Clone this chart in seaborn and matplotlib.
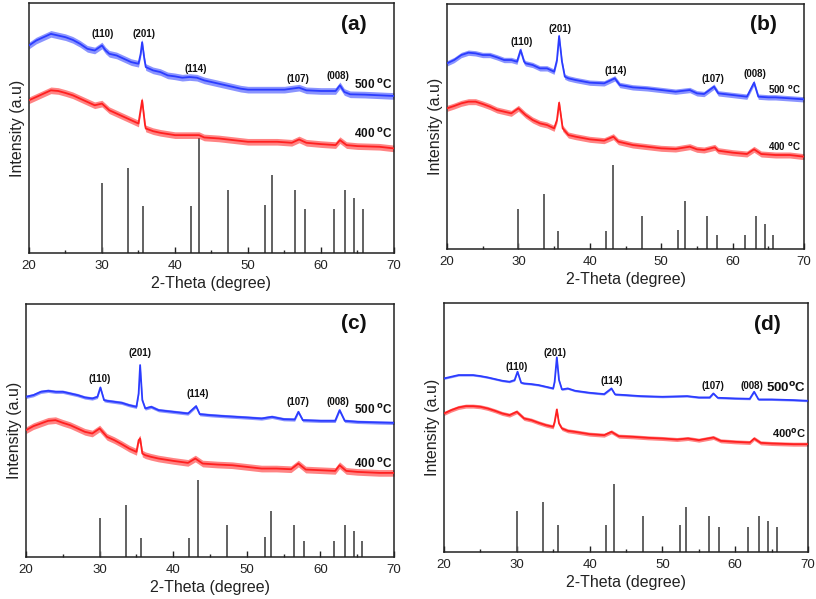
import matplotlib
matplotlib.use("Agg")
import matplotlib.pyplot as plt
from matplotlib.ticker import MultipleLocator
import seaborn as sns
import pandas as pd

sns.set_theme(style="white")
plt.rcParams['font.family'] = ['Liberation Sans', 'DejaVu Sans']

# ---- data (heights measured from bottom of each panel, arbitrary units) ----
ref_pos = [30.0, 33.6, 35.6, 42.2, 43.3, 47.3, 52.4, 53.3, 56.4, 57.8, 61.8, 63.3, 64.5, 65.7]
ref_int = [212, 257, 143, 143, 347, 190, 145, 236, 189, 132, 132, 189, 166, 132]

a_x500 = [20, 21, 22, 23, 24, 25, 26, 27, 28, 29, 30, 30.5, 31, 32, 33, 34, 35, 35.3, 35.5, 35.8, 36, 37, 38, 39, 40, 41, 42, 43, 44, 45, 46, 47, 48, 49, 50, 52, 54, 55, 56, 57, 58, 60, 62, 62.6, 63.2, 64, 66, 68, 70]
a_y500 = [625, 640, 650, 660, 655, 650, 642, 630, 615, 610, 625, 610, 600, 595, 585, 575, 570, 600, 635, 585, 560, 550, 545, 535, 532, 528, 530, 528, 520, 515, 510, 505, 500, 495, 492, 492, 492, 492, 495, 498, 490, 488, 488, 505, 485, 478, 477, 475, 473]
a_x400 = [20, 21, 22, 23, 24, 25, 26, 27, 28, 29, 30, 31, 32, 33, 34, 35, 35.5, 35.9, 36, 37, 38, 40, 42, 43.3, 44, 46, 48, 50, 52, 54, 56, 57, 58, 60, 62, 62.6, 63.5, 65, 68, 70]
a_y400 = [460, 470, 480, 490, 488, 482, 475, 465, 455, 445, 450, 430, 420, 410, 400, 390, 460, 385, 375, 367, 362, 355, 355, 355, 348, 345, 340, 335, 335, 335, 332, 342, 332, 328, 325, 340, 325, 322, 320, 315]

b_x500 = [20, 21, 22, 23, 24, 25, 26, 27, 28, 29, 29.8, 30.3, 30.8, 31, 32, 33, 34, 35, 35.4, 35.7, 36.1, 36.5, 37, 38, 40, 42, 43.5, 44.2, 45, 46, 48, 50, 52, 54, 55, 56, 57.4, 58, 60, 62, 63, 63.6, 65, 66, 68, 70]
b_y500 = [557, 567, 582, 589, 587, 582, 582, 575, 567, 567, 562, 597, 562, 557, 552, 542, 542, 532, 567, 639, 562, 517, 512, 507, 499, 497, 512, 492, 489, 485, 482, 477, 472, 477, 467, 465, 487, 467, 462, 457, 499, 457, 455, 455, 452, 449]
b_x400 = [20, 21, 22, 23, 24, 25, 26, 27, 28, 29, 30, 31, 32, 33, 34, 35, 35.4, 35.7, 36.2, 37, 38, 40, 42, 43.3, 44, 46, 48, 50, 52, 54, 55, 56, 57.5, 58, 60, 62, 63, 64, 66, 68, 70]
b_y400 = [422, 429, 437, 442, 442, 435, 427, 417, 412, 407, 422, 402, 387, 377, 372, 362, 387, 439, 362, 342, 337, 329, 325, 337, 322, 312, 307, 302, 300, 307, 299, 297, 305, 295, 289, 285, 299, 285, 282, 282, 277]

c_x500 = [20, 21, 22, 23, 24, 25, 26, 27, 28, 29, 29.7, 30.1, 30.6, 31, 32, 33, 34, 35, 35.3, 35.5, 35.8, 36.2, 37, 38, 40, 42, 43.1, 43.6, 45, 47, 50, 52, 53.4, 55, 56.5, 57, 57.6, 60, 62, 62.6, 63.3, 65, 68, 70]
c_y500 = [480, 485, 495, 498, 495, 495, 490, 485, 478, 475, 480, 508, 470, 468, 465, 462, 455, 450, 490, 575, 470, 445, 450, 440, 435, 430, 452, 428, 425, 422, 418, 415, 420, 413, 412, 435, 410, 408, 408, 440, 408, 405, 403, 402]
c_x400 = [20, 21, 22, 23, 24, 25, 26, 27, 28, 29, 30, 31, 32, 33, 34, 35, 35.3, 35.5, 35.8, 36.2, 37, 38, 40, 42, 43, 44, 46, 48, 50, 52, 54, 56, 57, 58, 60, 62, 62.6, 63.5, 65, 68, 70]
c_y400 = [380, 392, 400, 408, 410, 402, 395, 385, 375, 370, 385, 360, 350, 338, 325, 315, 350, 355, 310, 305, 300, 295, 288, 282, 295, 280, 277, 275, 270, 265, 265, 263, 280, 262, 260, 258, 275, 258, 255, 252, 252]

d_x500 = [20, 21, 22, 23, 24, 25, 26, 27, 28, 29, 29.7, 30.1, 30.6, 31, 32, 33, 34, 35, 35.2, 35.5, 35.8, 36.2, 37, 38, 40, 42, 43, 43.5, 45, 47, 50, 53.4, 55, 56.5, 57, 57.6, 60, 62, 62.6, 63.2, 65, 68, 70]
d_y500 = [520, 525, 530, 530, 530, 527, 523, 518, 513, 510, 515, 540, 507, 505, 503, 500, 495, 490, 510, 583, 515, 487, 490, 483, 477, 473, 490, 472, 470, 467, 465, 467, 463, 463, 475, 462, 460, 459, 480, 457, 457, 455, 453]
d_x400 = [20, 21, 22, 23, 24, 25, 26, 27, 28, 29, 30, 31, 32, 33, 34, 35, 35.2, 35.5, 35.8, 36.2, 37, 38, 40, 42, 43, 44, 46, 48, 50, 52, 53.5, 55, 57, 58, 60, 62, 62.6, 63.5, 65, 68, 70]
d_y400 = [415, 425, 433, 437, 437, 435, 430, 423, 415, 410, 420, 400, 395, 387, 380, 375, 390, 427, 385, 370, 363, 360, 353, 350, 360, 347, 345, 342, 340, 337, 340, 335, 343, 333, 330, 328, 340, 327, 325, 323, 323]

hkl_labels = ["(110)", "(201)", "(114)", "(107)", "(008)"]
panel_letters = ["(a)", "(b)", "(c)", "(d)"]
temp_labels = ["500", "400"]

# ---- layout / style per panel ----
panels = [
    dict(rect=[0.0355, 0.5776, 0.4473, 0.4174], ylim=753, stick=(1.0, 0.0), noise=(10, 10),
         cur=((a_x500, a_y500), (a_x400, a_y400)),
         hkl=[(30.1, 660), (35.8, 660), (42.9, 553), (56.8, 525), (62.3, 533)],
         temp=[(69.9, 505), (69.9, 360)], tfs=(8.5, 8.5), sep=" ", letter=(64.5, 688)),
    dict(rect=[0.5478, 0.5843, 0.4375, 0.4090], ylim=735, stick=(0.975, -85.4), noise=(8, 9),
         cur=((b_x500, b_y500), (b_x400, b_y400)),
         hkl=[(30.4, 622), (35.8, 659), (43.6, 535), (57.3, 510), (63.1, 525)],
         temp=[(69.5, 479), (69.5, 307)], tfs=(7, 7), sep=" ", letter=(64.3, 675)),
    dict(rect=[0.0319, 0.0701, 0.4510, 0.4224], ylim=758, stick=(0.858, -65.7), noise=(5, 10),
         cur=((c_x500, c_y500), (c_x400, c_y400)),
         hkl=[(30.0, 533), (35.5, 610), (43.3, 487), (57.0, 465), (62.4, 465)],
         temp=[(69.9, 440), (69.9, 278)], tfs=(8.5, 8.5), sep=" ", letter=(64.5, 700)),
    dict(rect=[0.5441, 0.0785, 0.4461, 0.4157], ylim=746, stick=(0.603, -6.2), noise=(3, 6),
         cur=((d_x500, d_y500), (d_x400, d_y400)),
         hkl=[(30.0, 555), (35.3, 597), (43.1, 513), (56.9, 497), (62.3, 498)],
         temp=[(69.8, 491), (69.8, 356)], tfs=(9.5, 8), sep="", letter=(64.4, 683)),
]

colors = ["#2b3cff", "#ff2020"]
fig = plt.figure(figsize=(8.16, 5.99), dpi=100)

for i, p in enumerate(panels):
    ax = fig.add_axes(p["rect"])
    s, off = p["stick"]
    tops = [s * v + off for v in ref_int]
    ax.vlines(ref_pos, -200, tops, color="#555555", linewidth=1.3, zorder=1)
    for k, ((xs, ys), col) in enumerate(zip(p["cur"], colors)):
        nz = p["noise"][k]
        ax.fill_between(xs, [v - nz for v in ys], [v + nz for v in ys],
                        color=col, alpha=0.55, linewidth=0, zorder=2)
        df = pd.DataFrame({"x": xs, "y": ys})
        sns.lineplot(data=df, x="x", y="y", ax=ax, color=col, linewidth=1.3, zorder=3)
    for lab, (tx, ty) in zip(hkl_labels, p["hkl"]):
        ax.text(tx, ty, lab, ha="center", va="center", fontsize=7, fontweight="bold", color="#111111")
    for lab, (tx, ty), fs in zip(temp_labels, p["temp"], p["tfs"]):
        ax.text(tx, ty, lab + p["sep"] + r"$^{\mathbf{o}}$C", ha="right", va="center",
                fontsize=fs, fontweight="bold", color="#111111")
    ax.text(p["letter"][0], p["letter"][1], panel_letters[i], ha="center", va="center",
            fontsize=15, fontweight="bold", color="#111111")
    ax.set_xlim(20, 70)
    ax.set_ylim(0, p["ylim"])
    ax.set_yticks([])
    ax.xaxis.set_major_locator(MultipleLocator(10))
    ax.xaxis.set_minor_locator(MultipleLocator(5))
    ax.tick_params(axis="x", which="major", direction="in", length=4, width=1, labelsize=9.5,
                   bottom=True, top=False, colors="#222222", pad=5)
    ax.tick_params(axis="x", which="minor", direction="in", length=2.5, width=1, bottom=True, top=False)
    ax.set_xlabel("2-Theta (degree)", fontsize=11.5, color="#222222", labelpad=3)
    ax.set_ylabel("Intensity (a.u)", fontsize=11.5, color="#222222", labelpad=3)
    for sp in ax.spines.values():
        sp.set_color("#222222")
        sp.set_linewidth(1.1)

fig.savefig("out.png", dpi=100)
